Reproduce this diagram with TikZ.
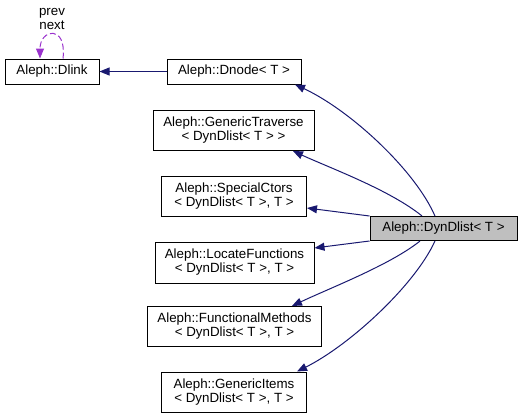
\documentclass[tikz,border=0pt]{standalone}
\usepackage{fontspec}
\setmainfont{Liberation Sans}
\usepackage{tikz}
\usetikzlibrary{arrows.meta}

\definecolor{edgeblue}{HTML}{191970}
\definecolor{loopviolet}{HTML}{9A32CD}
\definecolor{boxgray}{HTML}{BFBFBF}

\tikzset{
    cls/.style={draw, fill=white, line width=0.75pt, align=center, inner sep=0pt,
        font=\fontsize{10}{10.5}\selectfont},
    inh/.style={draw=edgeblue, line width=0.75pt,
        -{Triangle[length=7.5pt,width=6pt,fill=edgeblue]}},
    selfref/.style={draw=loopviolet, line width=0.75pt, dash pattern=on 4.5pt off 2.25pt,
        -{Triangle[length=7.5pt,width=6pt,fill=loopviolet]}}
}

\begin{document}
\begin{tikzpicture}[x=0.75pt, y=-0.75pt]

    \useasboundingbox (0,0) rectangle (523,418);

    \node[cls, minimum width=70.5pt, minimum height=18.75pt] (a) at (52, 71.5) {Aleph::Dlink};
    \node[cls, minimum width=100.5pt, minimum height=18.75pt] (b) at (234, 71.5) {Aleph::Dnode< T >};
    \node[cls, minimum width=120.75pt, minimum height=30pt] (c) at (233.5, 130.5) {Aleph::GenericTraverse\\< DynDlist< T > >};
    \node[cls, minimum width=108.75pt, minimum height=30pt] (d) at (234, 196) {Aleph::SpecialCtors\\< DynDlist< T >, T >};
    \node[cls, fill=boxgray, minimum width=110.25pt, minimum height=18pt] (e) at (443.5, 228.5) {Aleph::DynDlist< T >};
    \node[cls, minimum width=119.25pt, minimum height=30.75pt] (f) at (234.5, 262.5) {Aleph::LocateFunctions\\< DynDlist< T >, T >};
    \node[cls, minimum width=130.5pt, minimum height=30pt] (g) at (234.5, 326.5) {Aleph::FunctionalMethods\\< DynDlist< T >, T >};
    \node[cls, minimum width=108.75pt, minimum height=30pt] (h) at (234, 392) {Aleph::GenericItems\\< DynDlist< T >, T >};
    \node[align=center, inner sep=0pt, font=\fontsize{10}{10.5}\selectfont] (i) at (52, 19) {prev\\next};

    \draw [selfref] ([xshift=8.25pt]a.north) .. controls (67, 24) and (40, 29) .. ([xshift=-9pt]a.north);
    \draw [inh] (b) -- (a);
    \draw [inh] ([xshift=-6.4pt]e.north) .. controls (415, 170) and (350, 110) .. ([xshift=45.75pt]b.south);
    \draw [inh] ([xshift=-16.1pt]e.north) .. controls (390, 190) and (330, 168) .. ([xshift=44.6pt]c.south);
    \draw [inh] (e.north west) -- ([yshift=-9pt]d.east);
    \draw [inh] (e.south west) -- ([yshift=10.9pt]f.east);
    \draw [inh] ([xshift=-17.6pt]e.south) .. controls (390, 265) and (330, 288) .. ([xshift=43.1pt]g.north);
    \draw [inh] ([xshift=-6.4pt]e.south) .. controls (415, 285) and (350, 345) .. ([xshift=47.25pt]h.north);

\end{tikzpicture}
\end{document}
